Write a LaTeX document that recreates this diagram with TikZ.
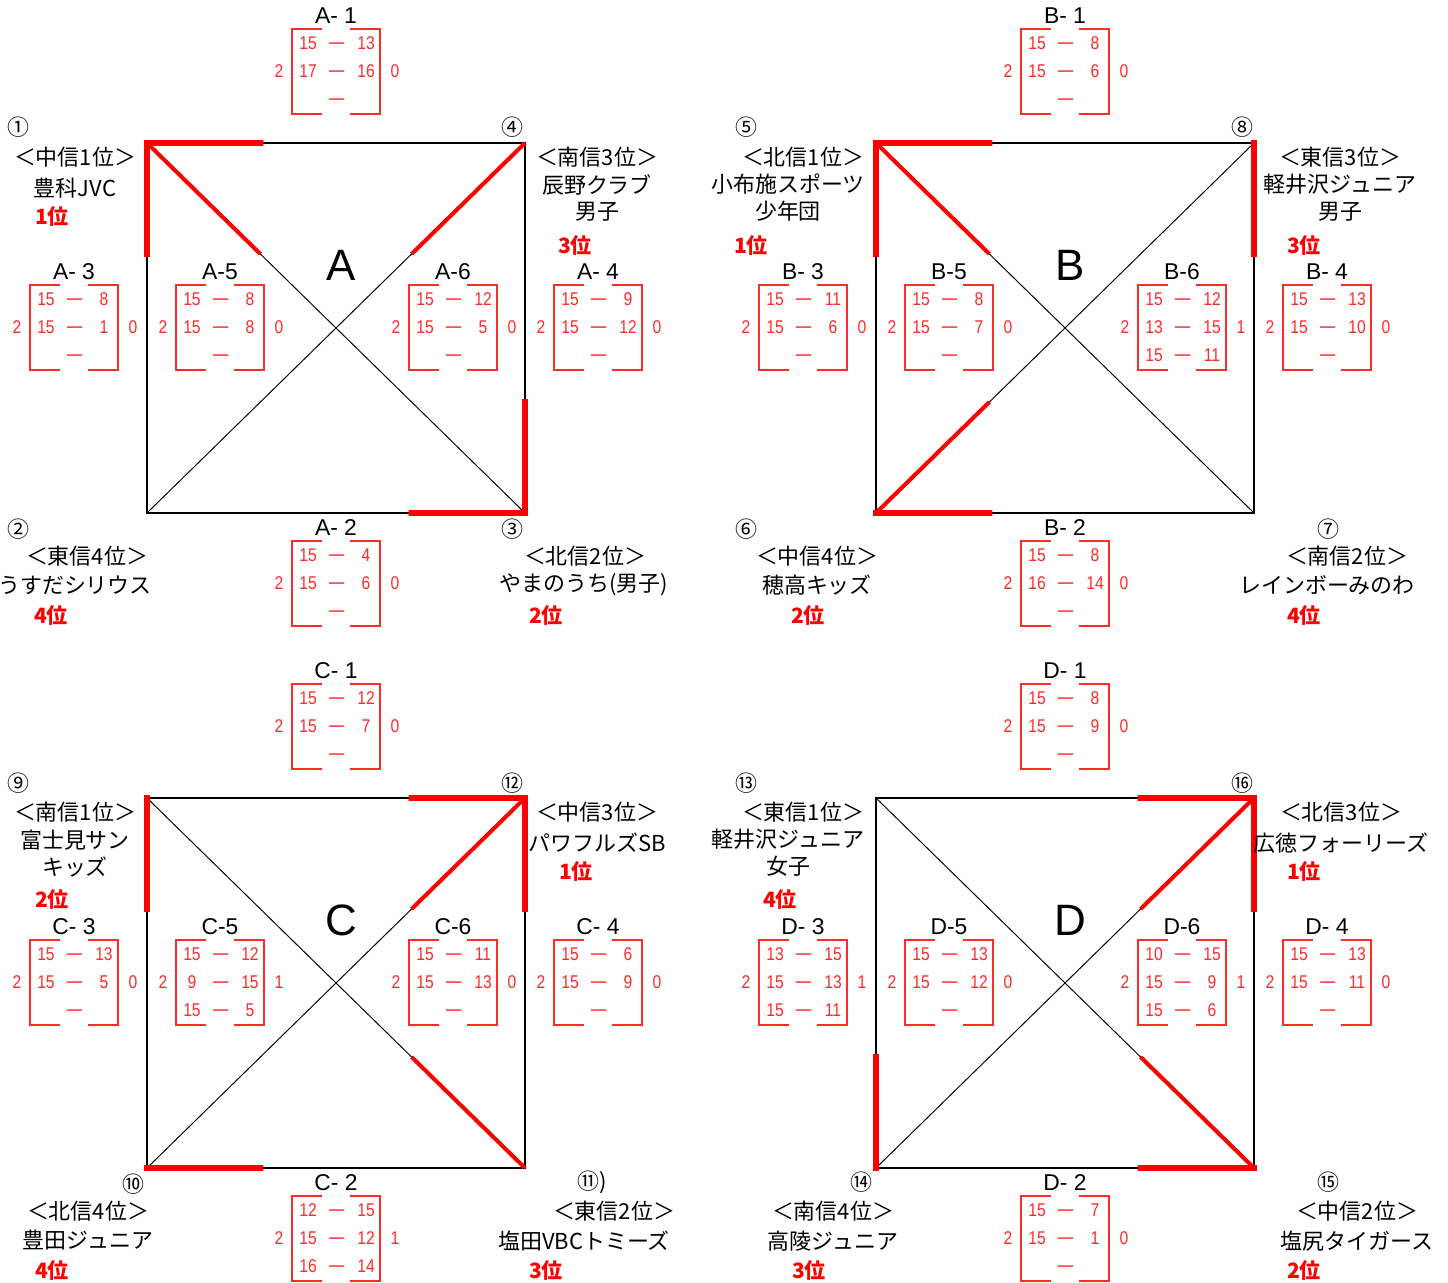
\documentclass[tikz,border=0pt]{standalone}
\usepackage{fontspec}
\usepackage{xcolor}
\usepackage{tikz}
\usetikzlibrary{calc}
\setmainfont{Noto Sans CJK JP}
\newfontfamily\latinfont{Liberation Sans}
\newfontfamily\scorefont[FakeStretch=0.85]{Liberation Sans}
\definecolor{ink}{HTML}{000000}
\definecolor{win}{HTML}{FF0000}
\definecolor{pts}{HTML}{FF2A2A}
\tikzset{
  sqside/.style={draw=ink, line width=1.1pt},
  sqdiag/.style={draw=ink, line width=0.55pt},
  winside/.style={draw=win, line width=3.4pt, line cap=rect},
  windiag/.style={draw=win, line width=2.3pt},
  bracket/.style={draw=pts, line width=1.1pt},
  numlab/.style={text=ink, font=\fontsize{12.5}{14}\selectfont, inner sep=0pt},
  teamlab/.style={text=ink, font=\fontsize{12.5}{15.3}\selectfont, inner sep=0pt, align=center},
  ranklab/.style={text=win, font=\bfseries\fontsize{12}{14}\selectfont, inner sep=0pt},
  scorelab/.style={text=pts, font=\scorefont\fontsize{10.5}{12}\selectfont, inner sep=0pt},
  dashlab/.style={text=pts, font=\fontsize{12}{12}\selectfont, inner sep=0pt, yshift=-2.2pt},
  gamelab/.style={text=ink, font=\latinfont\fontsize{13}{14}\selectfont, inner sep=0pt},
  poollab/.style={text=ink, font=\latinfont\fontsize{25}{28}\selectfont, inner sep=0pt},
}
\begin{document}
\begin{tikzpicture}[x=0.02cm,y=-0.02cm]
  \useasboundingbox (0,0) rectangle (1448,1283);
  \foreach \p/\tl/\tr/\bl/\br/\ox/\oy in {A/1/4/2/3/0/0, B/5/8/6/7/729/0, C/9/12/10/11/0/655, D/13/16/14/15/729/655}{
    \coordinate (t\tl) at (147+\ox,143+\oy);
    \coordinate (t\tr) at (525+\ox,143+\oy);
    \coordinate (t\bl) at (147+\ox,513+\oy);
    \coordinate (t\br) at (525+\ox,513+\oy);
    \draw[sqside] (t\tl) -- (t\tr) -- (t\br) -- (t\bl) -- cycle;
    \draw[sqdiag] (t\tl) -- (t\br) (t\tr) -- (t\bl);
    \node[poollab] (pool\p) at (341+\ox,265+\oy) {\p};
  }
  \foreach \w/\l/\s in {1/4/winside, 1/2/winside, 1/3/windiag, 4/2/windiag, 3/4/winside, 3/2/winside,
    5/8/winside, 5/6/winside, 5/7/windiag, 8/7/winside, 6/8/windiag, 6/7/winside,
    12/9/winside, 9/10/winside, 12/11/winside, 12/10/windiag, 11/9/windiag, 10/11/winside,
    16/13/winside, 16/15/winside, 16/14/windiag, 14/13/winside, 15/13/windiag, 15/14/winside}{
    \draw[\s] (t\w) -- ($(t\w)!0.3!(t\l)$);
  }
  \foreach \i/\c/\cx/\cy/\h/\hx/\hy/\n/\nx/\ny/\r/\rx/\ry in {
    1/①/18/127/＜中信1位＞/75/157/豊科JVC/75/188/1位/52/216,
    4/④/512/127/＜南信3位＞/597/157/{辰野クラブ\\男子}/597/198/3位/575/245,
    2/②/18/529/＜東信4位＞/87/556/うすだシリウス/75/585/4位/51/615,
    3/③/512/529/＜北信2位＞/585/556/やまのうち(男子)/584/585/2位/546/615,
    5/⑤/746/127/＜北信1位＞/803/157/{小布施スポーツ\\少年団}/788/198/1位/751/245,
    8/⑧/1242/127/＜東信3位＞/1340/157/{軽井沢ジュニア\\男子}/1340/198/3位/1304/245,
    6/⑥/746/529/＜中信4位＞/817/556/穂高キッズ/817/585/2位/808/615,
    7/⑦/1328/529/＜南信2位＞/1347/556/レインボーみのわ/1327/585/4位/1304/615,
    9/⑨/18/783/＜南信1位＞/75/812/{富士見サン\\キッズ}/75/854/2位/52/899,
    12/⑫/512/783/＜中信3位＞/597/812/パワフルズSB/597/843/1位/576/871,
    10/⑩/133/1184/＜北信4位＞/88/1211/豊田ジュニア/88/1240/4位/52/1270,
    11/⑪)/592/1182/＜東信2位＞/614/1211/塩田VBCトミーズ/584/1241/3位/546/1270,
    13/⑬/746/783/＜東信1位＞/803/812/{軽井沢ジュニア\\女子}/788/853/4位/780/899,
    16/⑯/1242/783/＜北信3位＞/1341/812/広徳フォーリーズ/1341/843/1位/1304/871,
    14/⑭/861/1182/＜南信4位＞/833/1211/高陵ジュニア/833/1241/3位/809/1270,
    15/⑮/1328/1182/＜中信2位＞/1357/1211/塩尻タイガース/1357/1241/2位/1304/1270}{
    \node[numlab] (c\i) at (\cx,\cy) {\c};
    \node[teamlab] (h\i) at (\hx,\hy) {\h};
    \node[teamlab] (n\i) at (\nx,\ny) {\n};
    \node[ranklab] (r\i) at (\rx,\ry) {\r};
  }
  \foreach \g/\cx/\ty/\lab/\pa/\qa/\pb/\qb/\pc/\qc/\w/\l in {
    a1/336/29/A- 1/15/13/17/16/{}/{}/2/0,
    a3/74/285/A- 3/15/8/15/1/{}/{}/2/0,
    a5/220/285/A-5/15/8/15/8/{}/{}/2/0,
    a6/453/285/A-6/15/12/15/5/{}/{}/2/0,
    a4/598/285/A- 4/15/9/15/12/{}/{}/2/0,
    a2/336/541/A- 2/15/4/15/6/{}/{}/2/0,
    b1/1065/29/B- 1/15/8/15/6/{}/{}/2/0,
    b3/803/285/B- 3/15/11/15/6/{}/{}/2/0,
    b5/949/285/B-5/15/8/15/7/{}/{}/2/0,
    b6/1182/285/B-6/15/12/13/15/15/11/2/1,
    b4/1327/285/B- 4/15/13/15/10/{}/{}/2/0,
    b2/1065/541/B- 2/15/8/16/14/{}/{}/2/0,
    c1/336/684/C- 1/15/12/15/7/{}/{}/2/0,
    c3/74/940/C- 3/15/13/15/5/{}/{}/2/0,
    c5/220/940/C-5/15/12/9/15/15/5/2/1,
    c6/453/940/C-6/15/11/15/13/{}/{}/2/0,
    c4/598/940/C- 4/15/6/15/9/{}/{}/2/0,
    c2/336/1196/C- 2/12/15/15/12/16/14/2/1,
    d1/1065/684/D- 1/15/8/15/9/{}/{}/2/0,
    d3/803/940/D- 3/13/15/15/13/15/11/2/1,
    d5/949/940/D-5/15/13/15/12/{}/{}/2/0,
    d6/1182/940/D-6/10/15/15/9/15/6/2/1,
    d4/1327/940/D- 4/15/13/15/11/{}/{}/2/0,
    d2/1065/1196/D- 2/15/7/15/1/{}/{}/2/0}{
    \node[gamelab] (\g) at (\cx,\ty-13) {\lab};
    \draw[bracket] (\cx-14,\ty) -| (\cx-44,\ty+85) -- (\cx-14,\ty+85);
    \draw[bracket] (\cx+14,\ty) -| (\cx+44,\ty+85) -- (\cx+14,\ty+85);
    \foreach \k/\ls/\rs in {1/\pa/\qa, 2/\pb/\qb, 3/\pc/\qc}{
      \node[scorelab] (\g-l\k) at (\cx-28,\ty-14+28*\k) {\ls};
      \node[dashlab] (\g-d\k) at (\cx+1,\ty-14+28*\k) {－};
      \node[scorelab] (\g-r\k) at (\cx+30,\ty-14+28*\k) {\rs};
    }
    \node[scorelab] (\g-w) at (\cx-57,\ty+42) {\w};
    \node[scorelab] (\g-s) at (\cx+59,\ty+42) {\l};
  }
\end{tikzpicture}
\end{document}
